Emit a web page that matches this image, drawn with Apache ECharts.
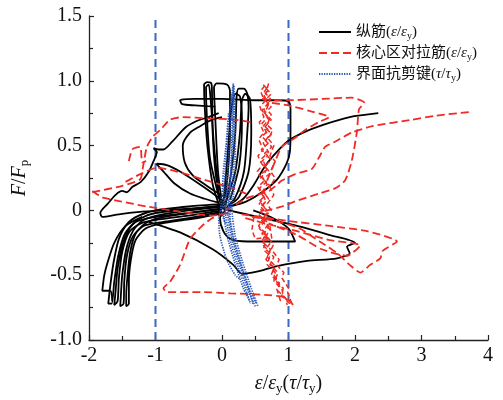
<!DOCTYPE html>
<html>
<head>
<meta charset="utf-8">
<script src="https://cdn.jsdelivr.net/npm/echarts@6/dist/echarts.min.js"></script>
<style>
  html, body { margin: 0; padding: 0; background: #fff; }
  #chart { width: 503px; height: 400px; }
</style>
</head>
<body>
<div id="chart"></div>
<script>
// Hysteresis traces: normalised load F/Fp against normalised strain / shear stress.

// ---- 纵筋 (longitudinal bars), black solid ----
const steelLeft1 = [[0.02,0.05],[-0.5,0.03],[-1.0,0.0],[-1.25,-0.04],[-1.42,-0.1],[-1.55,-0.22],[-1.63,-0.4],[-1.68,-0.58],[-1.71,-0.72],[-1.66,-0.72],[-1.62,-0.55],[-1.56,-0.35],[-1.46,-0.18],[-1.3,-0.09],[-1.0,-0.05],[-0.5,-0.02],[0.0,0.01]];
const steelLeft2 = [[0.03,0.04],[-0.5,0.01],[-1.0,-0.02],[-1.22,-0.06],[-1.38,-0.13],[-1.5,-0.27],[-1.57,-0.45],[-1.6,-0.62],[-1.62,-0.73],[-1.57,-0.7],[-1.55,-0.52],[-1.5,-0.32],[-1.4,-0.17],[-1.22,-0.1],[-0.95,-0.07],[-0.5,-0.04],[0.0,0.0]];
const steelLeft3 = [[0.04,0.03],[-0.5,0.0],[-0.98,-0.04],[-1.2,-0.08],[-1.34,-0.16],[-1.44,-0.3],[-1.5,-0.5],[-1.52,-0.65],[-1.53,-0.74],[-1.48,-0.72],[-1.47,-0.55],[-1.43,-0.35],[-1.34,-0.2],[-1.18,-0.12],[-0.9,-0.09],[-0.5,-0.06],[0.0,-0.01]];
const steelLeft4 = [[0.05,0.02],[-0.5,-0.02],[-0.95,-0.06],[-1.15,-0.1],[-1.3,-0.18],[-1.38,-0.32],[-1.42,-0.5],[-1.44,-0.65],[-1.44,-0.74],[-1.4,-0.72],[-1.4,-0.55],[-1.37,-0.38],[-1.3,-0.23],[-1.15,-0.14],[-0.9,-0.1],[-0.5,-0.07],[0.02,-0.02]];
const steelLeft5 = [[-1.2,-0.05],[-1.45,-0.12],[-1.62,-0.25],[-1.72,-0.4],[-1.77,-0.5],[-1.8,-0.62],[-1.68,-0.62],[-1.65,-0.7]];
const steelOuter = [[0.0,0.03],[-0.6,0.01],[-1.2,-0.01],[-1.55,-0.03],[-1.8,-0.05],[-1.83,-0.02],[-1.72,0.05],[-1.6,0.12],[-1.5,0.15],[-1.43,0.14],[-1.35,0.18],[-1.22,0.22],[-1.1,0.3],[-1.03,0.38],[-0.98,0.45],[-1.03,0.48],[-0.95,0.47],[-0.88,0.47],[-0.75,0.53],[-0.55,0.64],[-0.38,0.69],[-0.2,0.72],[-0.05,0.75]];
const steelLoopA = [[-0.98,0.36],[-0.83,0.35],[-0.63,0.3],[-0.33,0.2],[-0.08,0.11],[0.05,0.06]];
const steelLoopB = [[-0.99,0.36],[-0.88,0.3],[-0.72,0.21],[-0.48,0.13],[-0.26,0.09],[-0.05,0.06]];
const steelLoopC = [[0.0,0.72],[-0.15,0.7],[-0.33,0.65],[-0.48,0.6],[-0.59,0.5],[-0.56,0.37],[-0.44,0.27],[-0.23,0.19],[-0.08,0.14],[0.05,0.1]];
const steelTopLoop = [[-0.1,0.8],[-0.4,0.81],[-0.6,0.82],[-0.63,0.85],[-0.4,0.86],[0.0,0.86],[0.5,0.85],[0.85,0.85],[1.0,0.84],[1.03,0.78],[1.03,0.6],[1.02,0.45],[0.97,0.36],[0.83,0.24],[0.6,0.14],[0.37,0.07],[0.12,0.03]];
const steelTallA = [[-0.05,0.05],[-0.14,0.2],[-0.22,0.5],[-0.26,0.8],[-0.27,0.97],[-0.22,0.99],[-0.16,0.98],[-0.15,0.9],[-0.14,0.6],[-0.1,0.3],[-0.04,0.1]];
const steelTallB = [[0.0,0.05],[-0.06,0.3],[-0.1,0.7],[-0.12,0.95],[-0.08,0.98],[0.08,0.97],[0.12,0.92],[0.12,0.6],[0.09,0.3],[0.05,0.1]];
const steelTallC = [[0.05,0.03],[0.14,0.3],[0.2,0.6],[0.22,0.88],[0.25,0.94],[0.33,0.94],[0.38,0.9],[0.4,0.8],[0.38,0.6],[0.33,0.3],[0.2,0.1],[0.08,0.03]];
const steelTallD = [[0.02,0.05],[0.08,0.4],[0.14,0.78],[0.2,0.9],[0.27,0.88],[0.3,0.7],[0.26,0.35],[0.12,0.08]];
const steelTallE = [[-0.02,0.05],[-0.18,0.4],[-0.23,0.75],[-0.24,0.95],[-0.2,0.97],[-0.17,0.85],[-0.12,0.5],[-0.05,0.15]];
const steelTallF = [[0.04,0.04],[0.2,0.3],[0.27,0.6],[0.3,0.85],[0.35,0.9],[0.42,0.86],[0.44,0.6],[0.4,0.3],[0.25,0.1],[0.1,0.04]];
const steelRight = [[0.05,0.02],[0.17,0.04],[0.32,0.09],[0.47,0.19],[0.62,0.32],[0.77,0.42],[0.98,0.53],[1.22,0.6],[1.52,0.66],[1.92,0.72],[2.35,0.75]];
const steelLower = [[-1.1,-0.09],[-0.63,-0.17],[-0.14,-0.3],[0.17,-0.42],[0.3,-0.49],[0.45,-0.48],[0.62,-0.46],[0.83,-0.43],[1.28,-0.39],[1.73,-0.37],[1.92,-0.33],[1.88,-0.28],[2.0,-0.25],[1.62,-0.19],[1.13,-0.12],[0.62,-0.06],[0.02,0.01]];
const steelInner = [[0.47,0.0],[0.77,-0.06],[1.0,-0.14],[1.1,-0.24],[0.38,-0.24],[0.12,-0.22],[0.02,-0.16],[-0.03,-0.06],[0.05,0.0]];

// ---- 核心区对拉筋 (joint tie bars), red dashed ----
const tieTopLeft = [[-1.95,0.14],[-1.5,0.19],[-1.23,0.24],[-1.19,0.33],[-1.13,0.49],[-1.04,0.57],[-0.93,0.62],[-0.78,0.7],[-0.59,0.72],[-0.2,0.71],[0.2,0.7],[0.45,0.68]];
const tieLeftLow = [[-1.95,0.15],[-1.8,0.1],[-1.53,0.07],[-1.13,0.03],[-0.63,-0.01],[-0.14,-0.04],[0.1,-0.02]];
const tieLeftMid = [[-1.45,0.22],[-1.23,0.28],[-0.98,0.33],[-0.68,0.3],[-0.29,0.24],[0.17,0.17],[0.4,0.12]];
const tieKink = [[-1.4,0.38],[-1.35,0.47],[-1.23,0.49],[-1.2,0.37],[-1.14,0.38]];
const tieLowerLeft = [[0.05,-0.02],[-0.15,-0.06],[-0.3,-0.12],[-0.48,-0.22],[-0.63,-0.42],[-0.78,-0.55],[-0.88,-0.6],[-0.83,-0.63],[-0.3,-0.63],[0.12,-0.64],[0.6,-0.65],[0.95,-0.67],[1.07,-0.73]];
const tieTopRight = [[0.6,0.86],[0.8,0.85],[1.0,0.85],[1.5,0.86],[1.95,0.87],[2.14,0.83],[2.06,0.78],[2.03,0.61],[1.95,0.38],[1.85,0.23],[1.7,0.17],[1.46,0.13],[1.1,0.07],[0.9,0.03],[0.6,-0.01]];
const tieTopRight2 = [[0.75,0.83],[1.0,0.81],[1.3,0.77],[1.61,0.72],[1.45,0.68],[1.25,0.62],[1.1,0.56],[0.9,0.49],[0.8,0.38],[0.72,0.28],[0.65,0.2]];
const tieRightLong = [[0.05,0.0],[0.4,0.1],[0.71,0.15],[0.9,0.23],[1.1,0.28],[1.35,0.32],[1.46,0.41],[1.55,0.49],[1.7,0.53],[1.95,0.6],[2.26,0.65],[2.86,0.7],[3.2,0.73],[3.73,0.76]];
const tieLowerRight1 = [[0.3,-0.03],[0.98,-0.08],[1.62,-0.12],[2.18,-0.16],[2.63,-0.24],[2.42,-0.31],[2.38,-0.37],[2.23,-0.42],[2.08,-0.48],[1.92,-0.42],[1.73,-0.33],[1.47,-0.24],[1.17,-0.14],[0.8,-0.08],[0.45,-0.05]];
const tieLowerRight2 = [[0.35,-0.06],[0.8,-0.12],[1.13,-0.16],[1.62,-0.23],[2.08,-0.27],[1.88,-0.35],[1.5,-0.3],[1.13,-0.19],[0.7,-0.1]];
const tieScribbleA = [[1.05,-0.72],[0.98,-0.62],[1.0,-0.6],[0.9,-0.52],[0.93,-0.48],[0.82,-0.42],[0.86,-0.38],[0.74,-0.3],[0.78,-0.26],[0.66,-0.2],[0.72,-0.15],[0.6,-0.08],[0.66,-0.03],[0.56,0.05],[0.63,0.1],[0.54,0.18],[0.62,0.22],[0.53,0.3],[0.61,0.35],[0.54,0.42],[0.62,0.47],[0.55,0.55],[0.63,0.6],[0.56,0.68],[0.63,0.72],[0.57,0.8],[0.64,0.84],[0.58,0.92],[0.64,0.96]];
const tieScribbleB = [[0.7,0.98],[0.66,0.9],[0.73,0.86],[0.67,0.78],[0.74,0.74],[0.68,0.66],[0.76,0.62],[0.7,0.55],[0.78,0.5],[0.72,0.42],[0.8,0.38],[0.73,0.3],[0.8,0.25],[0.72,0.18],[0.78,0.12],[0.68,0.05],[0.74,0.0],[0.62,-0.06],[0.7,-0.1],[0.6,-0.18],[0.68,-0.22],[0.62,-0.3],[0.72,-0.35],[0.68,-0.42],[0.8,-0.48],[0.78,-0.55],[0.9,-0.6],[0.92,-0.66],[1.0,-0.7]];
const tieScribbleC = [[0.88,-0.7],[0.82,-0.6],[0.86,-0.56],[0.76,-0.48],[0.8,-0.43],[0.68,-0.36],[0.73,-0.3],[0.6,-0.24],[0.66,-0.18],[0.55,-0.12],[0.62,-0.06],[0.58,0.02],[0.66,0.07],[0.6,0.14],[0.68,0.2],[0.6,0.26],[0.68,0.32],[0.6,0.4],[0.7,0.45],[0.62,0.52],[0.7,0.57],[0.62,0.65],[0.7,0.7],[0.63,0.78],[0.7,0.82],[0.62,0.9],[0.68,0.95]];
const tieScribbleD = [[0.48,-0.05],[0.45,-0.15],[0.5,-0.22],[0.62,-0.21],[0.75,-0.22],[0.72,-0.12]];
const tieScribbleE = [[0.62,0.97],[0.7,0.93],[0.62,0.88],[0.7,0.83],[0.6,0.77],[0.69,0.72],[0.6,0.67],[0.7,0.62],[0.6,0.57],[0.7,0.52],[0.59,0.47],[0.69,0.42],[0.58,0.37],[0.68,0.32],[0.57,0.27],[0.67,0.22],[0.56,0.17],[0.66,0.12],[0.56,0.07],[0.65,0.02],[0.55,-0.03],[0.64,-0.08],[0.56,-0.14],[0.68,-0.2],[0.6,-0.26],[0.72,-0.32],[0.66,-0.38],[0.78,-0.44],[0.74,-0.5],[0.86,-0.56],[0.84,-0.62],[0.96,-0.68],[0.98,-0.73]];
const tieScribbleF = [[0.66,0.94],[0.74,0.9],[0.65,0.85],[0.74,0.8],[0.64,0.75],[0.74,0.7],[0.64,0.64],[0.75,0.59],[0.65,0.54],[0.75,0.49],[0.64,0.44],[0.74,0.39],[0.64,0.34],[0.73,0.29],[0.62,0.24],[0.72,0.19],[0.62,0.14],[0.7,0.09],[0.6,0.04],[0.7,-0.01],[0.6,-0.06],[0.7,-0.12],[0.63,-0.18],[0.74,-0.24],[0.66,-0.3],[0.78,-0.36],[0.72,-0.42],[0.84,-0.48],[0.8,-0.54],[0.92,-0.6],[0.9,-0.66],[1.02,-0.72]];

// ---- 界面抗剪键 (interface shear keys), blue dotted ----
const keyTrace1 = [[0.17,0.98],[0.17,0.7],[0.15,0.4],[0.12,0.15],[0.1,0.0],[0.16,-0.2],[0.27,-0.4],[0.4,-0.6],[0.47,-0.73]];
const keyTrace2 = [[0.16,0.95],[0.13,0.7],[0.1,0.4],[0.07,0.15],[0.05,0.0],[0.11,-0.2],[0.22,-0.4],[0.35,-0.6],[0.43,-0.72]];
const keyTrace3 = [[0.15,0.9],[0.1,0.7],[0.06,0.4],[0.03,0.15],[0.02,0.0],[0.08,-0.2],[0.19,-0.4],[0.32,-0.6],[0.42,-0.7]];
const keyTrace4 = [[0.18,0.96],[0.2,0.6],[0.2,0.3],[0.17,0.1],[0.15,0.0],[0.2,-0.2],[0.31,-0.4],[0.44,-0.6],[0.54,-0.74]];
const keyTrace5 = [[0.12,0.2],[0.02,0.05],[-0.05,-0.05],[-0.03,-0.2],[0.07,-0.38],[0.2,-0.5],[0.27,-0.53]];
const keyTrace6 = [[0.1,0.75],[0.06,0.5],[0.02,0.3],[0.0,0.12],[-0.02,0.02],[0.05,-0.1]];
const keyTrace7 = [[0.17,0.97],[0.15,0.6],[0.13,0.3],[0.1,0.1],[0.08,0.0],[0.14,-0.2],[0.25,-0.4],[0.38,-0.6],[0.5,-0.74]];
const keyTrace8 = [[0.18,0.9],[0.18,0.5],[0.16,0.2],[0.13,0.05],[0.12,-0.05],[0.18,-0.22],[0.29,-0.42],[0.42,-0.62],[0.52,-0.72]];

// yield reference lines (ε/εy = ±1)
const yieldLines = [-1, 1];

const steelCurves = [steelLeft1, steelLeft2, steelLeft3, steelLeft4, steelLeft5, steelOuter, steelLoopA, steelLoopB, steelLoopC, steelTopLoop, steelTallA, steelTallB, steelTallC, steelTallD, steelTallE, steelTallF, steelRight, steelLower, steelInner];
const tieLoops = [tieTopLeft, tieLeftLow, tieLeftMid, tieKink, tieLowerLeft, tieTopRight, tieTopRight2, tieRightLong, tieLowerRight1, tieLowerRight2];
const tieScribbles = [tieScribbleA, tieScribbleB, tieScribbleC, tieScribbleD, tieScribbleE, tieScribbleF];
const keyCurves = [keyTrace1, keyTrace2, keyTrace3, keyTrace4, keyTrace5, keyTrace6, keyTrace7, keyTrace8];

const NAME_STEEL = '纵筋', NAME_TIE = '核心区对拉筋', NAME_KEY = '界面抗剪键';
const SERIF = '"Liberation Serif", "Times New Roman", "Noto Sans CJK SC", serif';

function traceSeries(name, data, lineStyle, z, smooth) {
  return { name, type: 'line', data, symbol: 'none', smooth: smooth || false, z,
           lineStyle, itemStyle: { opacity: 0 }, emphasis: { disabled: true }, silent: true };
}

const steelStyle = { color: '#000', width: 1.8, type: 'solid' };
const tieStyle = { color: '#ee2b24', width: 1.8, type: [8, 4] };
const scribbleStyle = { color: '#ee2b24', width: 1.5, type: [5, 3] };
const keyStyle = { color: '#2a58b8', width: 1.7, type: [1.3, 1.2] };

const series = [];
steelCurves.forEach(d => series.push(traceSeries(NAME_STEEL, d, steelStyle, 2, 0.25)));
tieLoops.forEach(d => series.push(traceSeries(NAME_TIE, d, tieStyle, 3, 0.2)));
tieScribbles.forEach(d => series.push(traceSeries(NAME_TIE, d, scribbleStyle, 3)));
keyCurves.forEach(d => series.push(traceSeries(NAME_KEY, d, keyStyle, 4, 0.2)));
yieldLines.forEach(x => series.push({
  type: 'line', data: [[x, -1], [x, 1.5]], symbol: 'none', silent: true, z: 1,
  lineStyle: { color: '#3c68c0', width: 2, type: [8, 5] }
}));

const legendText = {
  [NAME_STEEL]: NAME_STEEL + '({i|ε}/{i|ε}{s|y})',
  [NAME_TIE]: NAME_TIE + '({i|ε}/{i|ε}{s|y})',
  [NAME_KEY]: NAME_KEY + '({i|τ}/{i|τ}{s|y})'
};

const chart = echarts.init(document.getElementById('chart'), null, { renderer: 'canvas' });
chart.setOption({
  animation: false,
  backgroundColor: '#fff',
  grid: { left: 89, right: 15, top: 16, bottom: 58 },
  legend: {
    data: [NAME_STEEL, NAME_TIE, NAME_KEY],
    orient: 'vertical',
    left: 313, top: 18,
    itemWidth: 32, itemHeight: 10, itemGap: 3,
    selectedMode: false,
    itemStyle: { opacity: 0 },
    formatter: n => legendText[n],
    textStyle: {
      fontFamily: SERIF, fontSize: 15, color: '#111', lineHeight: 18,
      rich: {
        i: { fontFamily: SERIF, fontStyle: 'italic', fontSize: 15, lineHeight: 18 },
        s: { fontFamily: SERIF, fontSize: 10, lineHeight: 10, verticalAlign: 'bottom' }
      }
    }
  },
  xAxis: {
    type: 'value', min: -2, max: 4, interval: 1,
    name: '{i|ε}/{i|ε}{s|y}({i|τ}/{i|τ}{s|y})',
    nameLocation: 'middle', nameGap: 33,
    nameTextStyle: {
      fontFamily: SERIF, fontSize: 20, color: '#111', lineHeight: 22,
      rich: {
        i: { fontFamily: SERIF, fontStyle: 'italic', fontSize: 20, lineHeight: 22 },
        s: { fontFamily: SERIF, fontSize: 13, lineHeight: 13, verticalAlign: 'bottom' }
      }
    },
    axisLine: { onZero: false, lineStyle: { color: '#222', width: 1.3 } },
    axisTick: { inside: true, length: 5, lineStyle: { color: '#222', width: 1.2 } },
    minorTick: { show: true, splitNumber: 2, length: 4, lineStyle: { color: '#222', width: 1.2 } },
    splitLine: { show: false },
    axisLabel: { fontFamily: SERIF, fontSize: 20, color: '#111', margin: 6 }
  },
  yAxis: {
    type: 'value', min: -1, max: 1.5, interval: 0.5,
    name: '{i|F}/{i|F}{s|p}',
    nameLocation: 'middle', nameGap: 58, nameRotate: 90,
    nameTextStyle: {
      fontFamily: SERIF, fontSize: 20, color: '#111', lineHeight: 22,
      rich: {
        i: { fontFamily: SERIF, fontStyle: 'italic', fontSize: 20, lineHeight: 22 },
        s: { fontFamily: SERIF, fontSize: 13, lineHeight: 13, verticalAlign: 'bottom' }
      }
    },
    axisLine: { onZero: false, lineStyle: { color: '#222', width: 1.3 } },
    axisTick: { inside: true, length: 5, lineStyle: { color: '#222', width: 1.2 } },
    minorTick: { show: true, splitNumber: 2, length: 4, lineStyle: { color: '#222', width: 1.2 } },
    splitLine: { show: false },
    axisLabel: {
      fontFamily: SERIF, fontSize: 20, color: '#111', margin: 7,
      formatter: v => (v === 0 ? '0' : v.toFixed(1))
    }
  },
  series
});
</script>
</body>
</html>
